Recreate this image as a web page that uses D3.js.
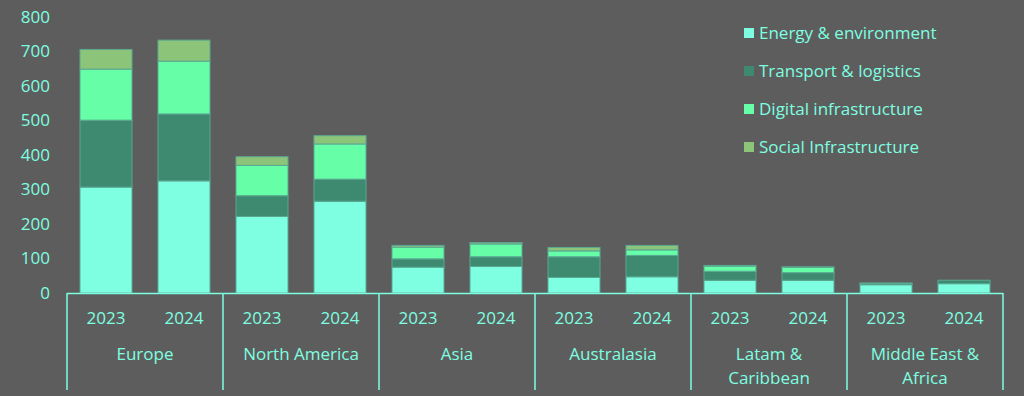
<!DOCTYPE html>
<html>
<head>
<meta charset="utf-8">
<script src="https://cdn.jsdelivr.net/npm/d3@7"></script>
<style>
  html, body { margin: 0; padding: 0; background: #5d5d5d; }
  svg { display: block; font-family: "Open Sans", sans-serif; }
</style>
</head>
<body>
<div id="chart"></div>
<script>
// regions and years
var regions = ["Europe", "North America", "Asia", "Australasia", "Latam & Caribbean", "Middle East & Africa"];
var regionLines = [["Europe"], ["North America"], ["Asia"], ["Australasia"], ["Latam &", "Caribbean"], ["Middle East &", "Africa"]];
var years = ["2023", "2024"];
var seriesNames = ["Energy & environment", "Transport & logistics", "Digital infrastructure", "Social Infrastructure"];

// values per region, per year (2023, 2024)
var energy    = [[307, 325], [222, 266], [75, 77], [45, 47], [37, 37], [24, 27]];
var transport = [[194, 194], [60, 64], [24, 28], [60, 62], [26, 22], [4, 10]];
var digital   = [[148, 153], [88, 102], [34, 37], [17, 16], [15, 15], [1, 0]];
var social    = [[57, 61], [25, 24], [5, 4], [10, 13], [2, 2], [0, 0]];
var yTicks = [0, 100, 200, 300, 400, 500, 600, 700, 800];

var colors = ["#7fffe1", "#3e8a70", "#66ffa8", "#8cc47a"];
var textColor = "#7dffe0";

var width = 1024, height = 396;
var plotLeft = 67, plotRight = 1003, plotTop = 17, plotBase = 293;
var fontSize = "17px";

// flat rows for the stack
var rows = [];
regions.forEach(function(r, i) {
	years.forEach(function(y, j) {
		rows.push({ region: r, year: y,
			"Energy & environment": energy[i][j],
			"Transport & logistics": transport[i][j],
			"Digital infrastructure": digital[i][j],
			"Social Infrastructure": social[i][j] });
	});
});

var stacked = d3.stack().keys(seriesNames)(rows);

var svg = d3.select("#chart").append("svg")
	.attr("width", width)
	.attr("height", height);

var x0 = d3.scaleBand().domain(regions).range([plotLeft, plotRight]);
var x1 = d3.scaleBand().domain(years).range([0, x0.bandwidth()]).paddingInner(0.333).paddingOuter(0.1665);
var y = d3.scaleLinear().domain([0, 800]).range([plotBase, plotTop]);

// y axis labels only
var yAxis = svg.append("g")
	.attr("transform", "translate(50,0)")
	.call(d3.axisLeft(y).tickValues(yTicks).tickSize(0).tickPadding(0));
yAxis.select(".domain").remove();
yAxis.selectAll("text")
	.attr("fill", textColor)
	.style("font-size", fontSize)
	.style("font-family", "'Open Sans', sans-serif");

// bars
svg.append("g").selectAll("g")
	.data(stacked)
	.enter().append("g")
	.attr("fill", function(d, i) { return colors[i]; })
	.selectAll("rect")
	.data(function(d) { return d; })
	.enter().append("rect")
	.attr("x", function(d) { return x0(d.data.region) + x1(d.data.year); })
	.attr("y", function(d) { return y(d[1]); })
	.attr("width", x1.bandwidth())
	.attr("height", function(d) { return Math.max(0, y(d[0]) - y(d[1])); })
	.attr("stroke", "#5aa792")
	.attr("stroke-width", 1);

// category axis: baseline + group separators
svg.append("line")
	.attr("x1", plotLeft).attr("x2", plotRight)
	.attr("y1", plotBase + 0.5).attr("y2", plotBase + 0.5)
	.attr("stroke", textColor).attr("stroke-width", 1.5);

var seps = regions.map(function(r) { return x0(r); }).concat([plotRight]);
svg.append("g").selectAll("line")
	.data(seps)
	.enter().append("line")
	.attr("x1", function(d) { return d; })
	.attr("x2", function(d) { return d; })
	.attr("y1", plotBase).attr("y2", 390)
	.attr("stroke", textColor).attr("stroke-width", 1.5);

// year labels
regions.forEach(function(r) {
	svg.append("g").selectAll("text")
		.data(years)
		.enter().append("text")
		.attr("x", function(d) { return x0(r) + x1(d) + x1.bandwidth() / 2; })
		.attr("y", 324)
		.attr("text-anchor", "middle")
		.attr("fill", textColor)
		.style("font-size", fontSize)
		.text(function(d) { return d; });
});

// region labels
svg.append("g").selectAll("text")
	.data(regions)
	.enter().append("text")
	.attr("x", function(d) { return x0(d) + x0.bandwidth() / 2; })
	.attr("y", 360)
	.attr("text-anchor", "middle")
	.attr("fill", textColor)
	.style("font-size", fontSize)
	.each(function(d, i) {
		var t = d3.select(this);
		regionLines[i].forEach(function(line, k) {
			t.append("tspan")
				.attr("x", x0(d) + x0.bandwidth() / 2)
				.attr("dy", k === 0 ? 0 : 24)
				.text(line);
		});
	});

// legend
var legend = svg.append("g").selectAll("g")
	.data(seriesNames)
	.enter().append("g")
	.attr("transform", function(d, i) { return "translate(744," + (33 + i * 38) + ")"; });
legend.append("rect")
	.attr("x", 0).attr("y", -5)
	.attr("width", 10).attr("height", 10)
	.attr("fill", function(d, i) { return colors[i]; });
legend.append("text")
	.attr("x", 15).attr("y", 6)
	.attr("fill", textColor)
	.style("font-size", fontSize)
	.text(function(d) { return d; });
</script>
</body>
</html>
